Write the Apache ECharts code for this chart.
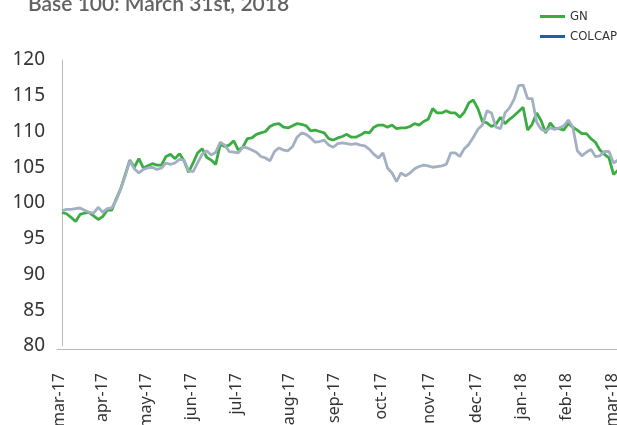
<!DOCTYPE html>
<html>
<head>
<meta charset="utf-8">
<script src="https://cdn.jsdelivr.net/npm/echarts@6/dist/echarts.min.js"></script>
<style>html,body{margin:0;padding:0;background:#fff;}#c{width:617px;height:425px;}</style>
</head>
<body>
<div id="c"></div>
<script>
var dates = ['2017-03-01','2017-03-04','2017-03-07','2017-03-10','2017-03-13','2017-03-16','2017-03-19','2017-03-22','2017-03-25','2017-03-28',
'2017-03-31','2017-04-03','2017-04-06','2017-04-09','2017-04-12','2017-04-15','2017-04-18','2017-04-21','2017-04-24','2017-04-27',
'2017-04-30','2017-05-03','2017-05-06','2017-05-09','2017-05-12','2017-05-15','2017-05-18','2017-05-21','2017-05-24','2017-05-27',
'2017-05-30','2017-06-02','2017-06-05','2017-06-08','2017-06-11','2017-06-14','2017-06-17','2017-06-20','2017-06-23','2017-06-26',
'2017-06-29','2017-07-02','2017-07-05','2017-07-08','2017-07-11','2017-07-14','2017-07-17','2017-07-20','2017-07-23','2017-07-26',
'2017-07-29','2017-08-01','2017-08-04','2017-08-07','2017-08-10','2017-08-13','2017-08-16','2017-08-19','2017-08-22','2017-08-25',
'2017-08-28','2017-08-31','2017-09-03','2017-09-06','2017-09-09','2017-09-12','2017-09-15','2017-09-18','2017-09-21','2017-09-24',
'2017-09-27','2017-09-30','2017-10-03','2017-10-06','2017-10-09','2017-10-12','2017-10-15','2017-10-18','2017-10-21','2017-10-24',
'2017-10-27','2017-10-30','2017-11-02','2017-11-05','2017-11-08','2017-11-11','2017-11-14','2017-11-17','2017-11-20','2017-11-23',
'2017-11-26','2017-11-29','2017-12-02','2017-12-05','2017-12-08','2017-12-11','2017-12-14','2017-12-17','2017-12-20','2017-12-23',
'2017-12-26','2017-12-29','2018-01-01','2018-01-04','2018-01-07','2018-01-10','2018-01-13','2018-01-16','2018-01-19','2018-01-22',
'2018-01-25','2018-01-28','2018-01-31','2018-02-03','2018-02-06','2018-02-09','2018-02-12','2018-02-15','2018-02-18','2018-02-21',
'2018-02-24','2018-02-27','2018-03-02','2018-03-05'];

var gnValues = [98.7,98.5,98.0,97.4,98.4,98.6,98.7,98.2,97.7,98.1,
99.0,99.0,100.6,102.0,104.0,106.0,105.0,106.2,104.9,105.2,
105.5,105.3,105.3,106.5,106.8,106.2,106.9,105.9,104.3,105.6,
107.0,107.6,106.4,106.0,105.4,108.2,107.9,108.1,108.7,107.4,
107.8,109.0,109.1,109.6,109.8,110.0,110.7,111.0,111.1,110.6,
110.5,110.8,111.1,111.0,110.8,110.1,110.2,110.0,109.8,109.0,
108.8,109.1,109.3,109.6,109.2,109.2,109.5,109.9,109.8,110.6,
110.9,110.9,110.6,110.9,110.4,110.5,110.5,110.7,111.1,110.9,
111.4,111.7,113.2,112.6,112.6,112.9,112.6,112.6,112.0,112.7,
114.0,114.4,113.2,111.4,111.2,110.7,111.0,112.0,111.1,111.7,
112.2,112.8,113.4,110.2,111.0,112.6,111.5,109.8,111.2,110.4,
110.4,110.2,111.1,110.6,110.2,109.7,109.7,109.0,108.5,107.4,
106.8,106.3,104.0,104.6];

var colcapValues = [98.9,99.1,99.1,99.2,99.3,99.0,98.7,98.6,99.4,98.7,
99.2,99.3,100.4,102.0,103.8,105.9,104.8,104.2,104.7,104.9,
105.0,104.7,104.9,105.6,105.4,105.6,106.1,106.0,104.5,104.4,
105.6,106.8,107.3,106.7,107.1,108.5,108.1,107.2,107.1,107.0,
107.8,107.7,107.4,107.1,106.5,106.3,105.9,107.2,107.7,107.4,
107.3,107.9,109.2,109.8,109.6,109.1,108.5,108.6,108.8,108.1,
107.8,108.3,108.4,108.3,108.2,108.3,108.1,108.0,107.5,106.8,
106.3,107.0,104.9,104.2,103.0,104.2,103.8,104.2,104.8,105.1,
105.3,105.2,105.0,105.1,105.2,105.4,107.0,107.0,106.5,107.6,
108.2,109.2,110.3,110.9,112.9,112.6,110.6,110.4,112.6,113.3,
114.5,116.4,116.5,114.6,114.6,111.3,110.3,110.0,110.5,110.3,
110.5,110.8,111.6,110.6,107.3,106.6,107.1,107.5,106.5,106.6,
107.2,107.2,105.6,106.0];

// dates where each month label sits on the axis
var tickDates = ['2017-02-27','2017-03-28','2017-04-26','2017-05-26','2017-06-25','2017-07-30','2017-08-29',
'2017-09-29','2017-10-31','2017-12-01','2017-12-31','2018-01-30','2018-03-01'];
var tickLabels = ['mar-17','apr-17','may-17','jun-17','jul-17','aug-17','sep-17','oct-17','nov-17','dec-17','jan-18','feb-18','mar-18'];
var yTicks = [80,85,90,95,100,105,110,115,120];

var DAY = 86400000;
function dayNum(s){ var p = s.split('-'); return Math.round((Date.UTC(+p[0], +p[1]-1, +p[2]) - Date.UTC(2017,2,1)) / DAY); }
var tickDays = tickDates.map(dayNum);
var gnData = dates.map(function(d,i){ return [dayNum(d), gnValues[i]]; });
var colData = dates.map(function(d,i){ return [dayNum(d), colcapValues[i]]; });

var chart = echarts.init(document.getElementById('c'), null, {renderer:'canvas'});
chart.setOption({
  animation:false,
  backgroundColor:'#ffffff',
  title:{
    text:'Base 100: March 31st, 2018',
    left:23, top:-11,
    textStyle:{fontFamily:'Lato', fontSize:21, fontWeight:600, color:'#626262'}
  },
  legend:{
    orient:'vertical', left:535, top:5, itemGap:7,
    icon:'rect', itemWidth:25, itemHeight:3,
    textStyle:{fontFamily:'Liberation Sans Narrow, DejaVu Sans Condensed, sans-serif', fontSize:13, color:'#333'},
    data:[{name:'GN'},{name:'COLCAP', itemStyle:{color:'#1f5fa8'}}]
  },
  grid:{left:57, right:0, top:60, bottom:79, containLabel:false, outerBoundsMode:'none'},
  xAxis:{
    type:'value', min:-3.32, max:368.32, offset:3,
    axisLine:{show:true, lineStyle:{color:'#b8b8b8', width:1}},
    axisTick:{show:false},
    splitLine:{show:false},
    axisLabel:{
      customValues: tickDays,
      rotate:90, margin:24, color:'#333', fontSize:16, fontFamily:'Noto Sans',
      hideOverlap:false,
      formatter:function(v){ var i = tickDays.indexOf(Math.round(v)); return i>=0 ? tickLabels[i] : ''; }
    }
  },
  yAxis:{
    type:'value', min:yTicks[0], max:yTicks[yTicks.length-1], interval:5,
    axisLine:{show:true, lineStyle:{color:'#b8b8b8', width:1}},
    axisTick:{show:false},
    splitLine:{show:false},
    axisLabel:{color:'#333', fontSize:19, fontFamily:'Noto Sans', margin:12}
  },
  series:[
    {name:'GN', type:'line', data:gnData, showSymbol:false, symbol:'none', z:2,
     itemStyle:{color:'#3aac42'}, lineStyle:{color:'#3aac42', width:2.8}},
    {name:'COLCAP', type:'line', data:colData, showSymbol:false, symbol:'none', z:3,
     itemStyle:{color:'#a3afc2'}, lineStyle:{color:'#a3afc2', width:2.8}}
  ]
});
</script>
</body>
</html>
